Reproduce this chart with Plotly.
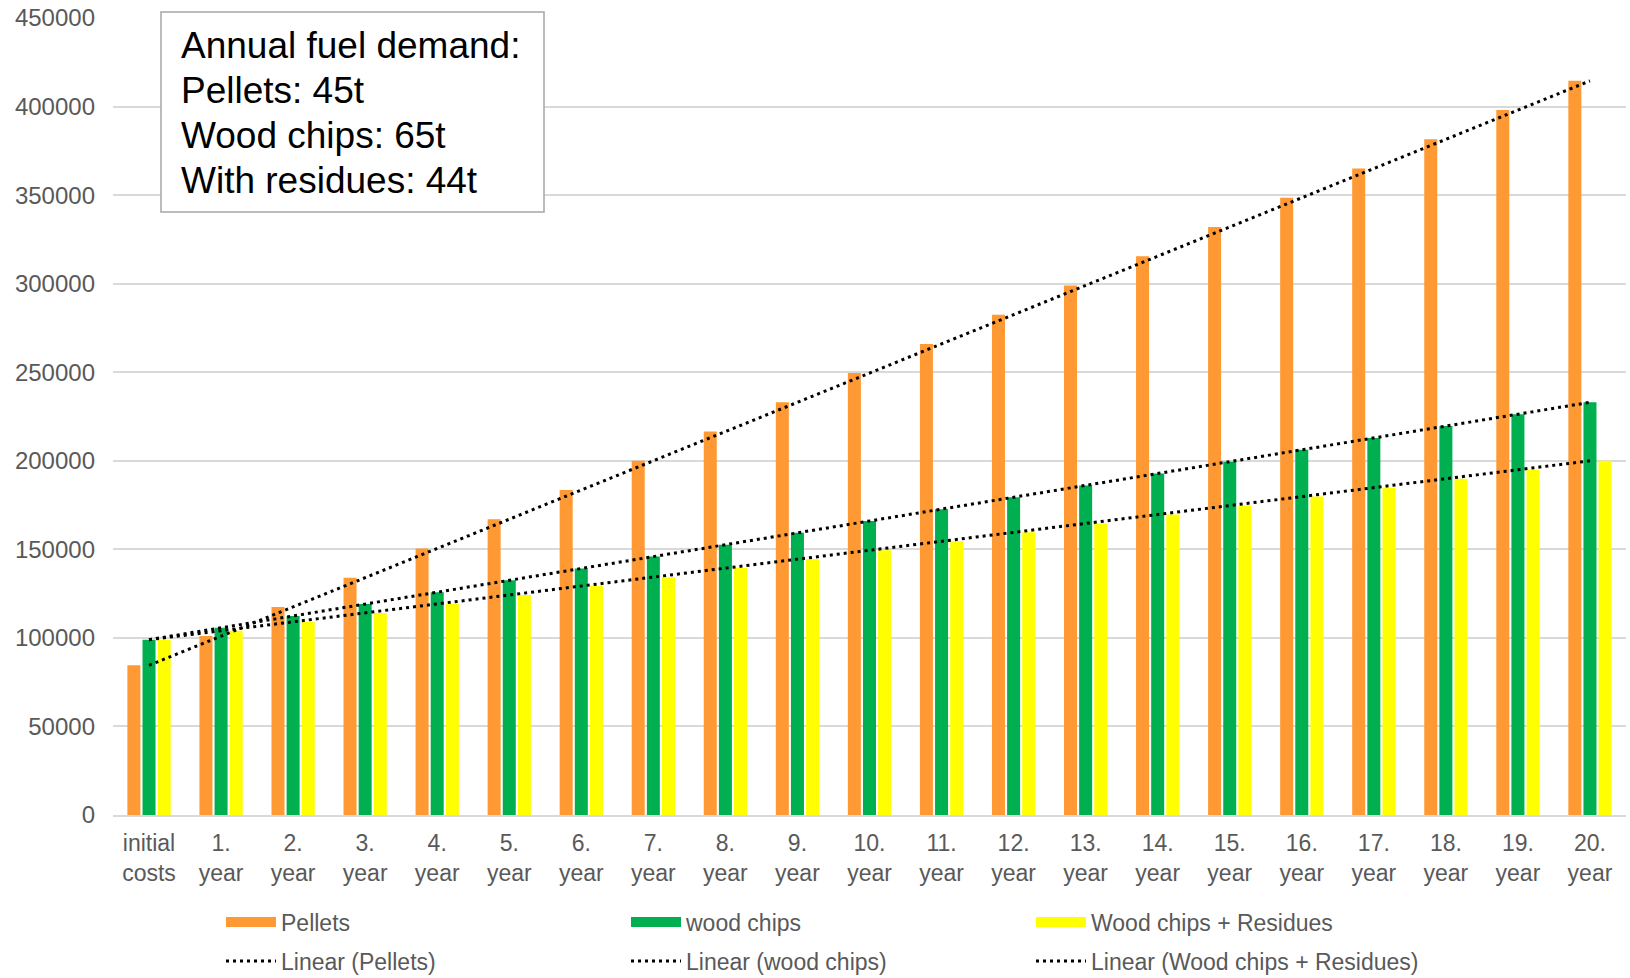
import numpy as np
import plotly.graph_objects as go

# Categories along the x axis
categories = ["initial<br>costs"] + [f"{i}.<br>year" for i in range(1, 21)]

# Cumulative costs per heating option
pellets = [84500, 101000, 117500, 134000, 150500, 167000, 183500, 200000, 216500, 233000,
           249500, 266000, 282500, 299000, 315500, 332000, 348500, 365000, 381500, 398000, 414500]
wood_chips = [99000, 105700, 112400, 119100, 125800, 132500, 139200, 145900, 152600, 159300,
              166000, 172700, 179400, 186100, 192800, 199500, 206200, 212900, 219600, 226300, 233000]
chips_residues = [99000, 104000, 109100, 114100, 119200, 124200, 129300, 134300, 139400, 144400,
                  149500, 154500, 159600, 164600, 169700, 174700, 179800, 184800, 189900, 194900, 200000]

series_names = ["Pellets", "wood chips", "Wood chips + Residues"]
series_values = [pellets, wood_chips, chips_residues]
series_colors = ["#FF9933", "#00B050", "#FFFF00"]

y_ticks = list(range(0, 450001, 50000))
box_lines = ["Annual fuel demand:", "Pellets: 45t", "Wood chips: 65t", "With residues: 44t"]

TICK_COLOR = "#595959"
GRID_COLOR = "#D9D9D9"
FONT = "Liberation Sans, Arial, sans-serif"
TICK_SIZE = 23

W, H = 1630, 978
M_L, M_R, M_T, M_B = 113, 4, 18, 163
PW, PH = W - M_L - M_R, H - M_T - M_B


def px_x(px):
    return (px - M_L) / PW


def px_y(py):
    return (H - M_B - py) / PH


fig = go.Figure()

# Grouped bars
for name, vals, col in zip(series_names, series_values, series_colors):
    fig.add_trace(go.Bar(x=categories, y=vals, name=name, marker=dict(color=col, line=dict(width=0)),
                         showlegend=False))

# Legend swatches for the bar series (wide bands like the spreadsheet legend)
for name, col in zip(series_names, series_colors):
    fig.add_trace(go.Scatter(x=[None], y=[None], mode="lines", name=name,
                             line=dict(color=col, width=10), legend="legend", hoverinfo="skip"))

# Linear trend lines fitted to each series
idx = np.arange(len(categories))
for name, vals in zip(series_names, series_values):
    slope, icpt = np.polyfit(idx, vals, 1)
    fig.add_trace(go.Scatter(x=categories, y=slope * idx + icpt, mode="lines",
                             name=f"Linear ({name})",
                             line=dict(color="black", width=3, dash="3px,4px"),
                             legend="legend2"))

# Info box
fig.add_shape(type="rect", xref="paper", yref="paper",
              x0=px_x(161), x1=px_x(544), y0=px_y(212), y1=px_y(12),
              fillcolor="white", line=dict(color="#A6A6A6", width=1.5), layer="above")
for k, line in enumerate(box_lines):
    fig.add_annotation(xref="paper", yref="paper", x=px_x(179), y=px_y(46 + 44.7 * k),
                       xanchor="left", yanchor="middle", align="left", showarrow=False,
                       text=line, font=dict(family=FONT, size=37, color="black"))

legend_common = dict(orientation="h", xanchor="left", x=px_x(221), yanchor="middle",
                     itemwidth=50, entrywidth=340, entrywidthmode="pixels",
                     font=dict(family=FONT, size=TICK_SIZE, color=TICK_COLOR),
                     bgcolor="rgba(0,0,0,0)")

fig.update_layout(
    width=W, height=H,
    margin=dict(l=M_L, r=M_R, t=M_T, b=M_B, autoexpand=False),
    paper_bgcolor="white", plot_bgcolor="white",
    barmode="group", bargap=0.37, bargroupgap=0.14,
    font=dict(family=FONT, size=TICK_SIZE, color=TICK_COLOR),
    legend=dict(**legend_common, y=px_y(922)),
    legend2=dict(**legend_common, y=px_y(961)),
    showlegend=True,
)

fig.update_xaxes(type="category", showgrid=False, showline=True, linecolor=GRID_COLOR, linewidth=2,
                 ticks="", tickfont=dict(family=FONT, size=TICK_SIZE, color=TICK_COLOR),
                 ticklabelstandoff=6)
fig.update_yaxes(range=[0, 450000], tickvals=y_ticks, ticktext=[str(v) for v in y_ticks],
                 showgrid=True, gridcolor=GRID_COLOR, gridwidth=2, zeroline=False,
                 ticks="", tickfont=dict(family=FONT, size=24, color=TICK_COLOR),
                 ticklabelstandoff=17)

fig.write_html("out.html")
